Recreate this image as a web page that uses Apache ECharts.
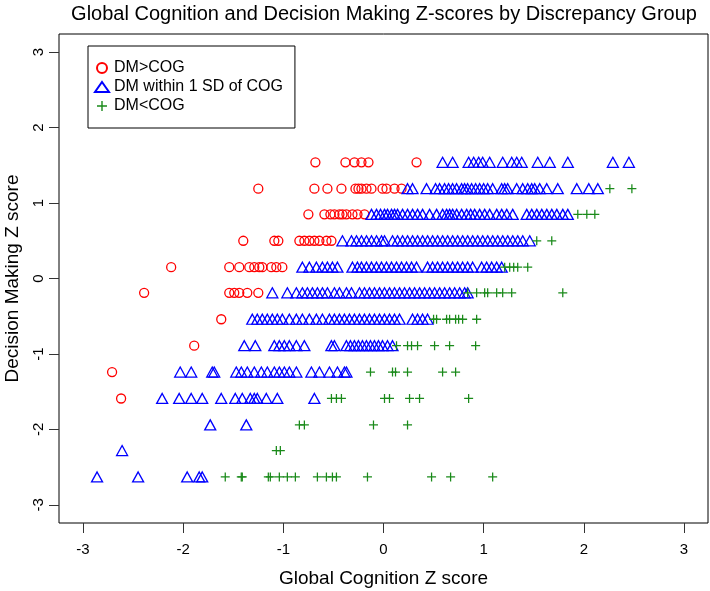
<!DOCTYPE html>
<html>
<head>
<meta charset="utf-8">
<script src="https://cdn.jsdelivr.net/npm/echarts@6/dist/echarts.min.js"></script>
<style>
html,body{margin:0;padding:0;background:#fff;}
#chart{width:710px;height:591px;}
</style>
</head>
<body>
<div id="chart"></div>
<script>
// Decision Making Z score levels (rows)
const dmLevels = [1.54, 1.19, 0.85, 0.50, 0.15, -0.19, -0.54, -0.89, -1.24, -1.59, -1.94, -2.28, -2.63];

// Global Cognition Z scores per row, DM>COG
const redCog = [
  [-0.68, -0.38, -0.29, -0.22, -0.15, 0.33],
  [-1.25, -0.69, -0.56, -0.42, -0.28, -0.25, -0.22, -0.17, -0.12, -0.01, 0.03, 0.11, 0.18],
  [-0.75, -0.59, -0.53, -0.49, -0.44, -0.41, -0.37, -0.31, -0.26, -0.19],
  [-1.40, -1.09, -1.05, -0.84, -0.79, -0.74, -0.69, -0.64, -0.57, -0.52],
  [-2.12, -1.54, -1.44, -1.34, -1.29, -1.24, -1.21, -1.12, -1.07, -1.01],
  [-2.39, -1.54, -1.49, -1.44, -1.36, -1.25],
  [-1.62],
  [-1.89],
  [-2.71],
  [-2.62],
  [],
  [],
  []
];

// DM within 1 SD of COG
const blueCog = [
  [0.59, 0.69, 0.85, 0.90, 0.95, 0.99, 1.06, 1.19, 1.28, 1.33, 1.38, 1.54, 1.66, 1.84, 2.29, 2.45],
  [0.24, 0.29, 0.43, 0.52, 0.56, 0.61, 0.65, 0.69, 0.73, 0.78, 0.81, 0.84, 0.88, 0.92, 0.96, 1.00, 1.04, 1.09, 1.18, 1.21, 1.24, 1.33, 1.39, 1.44, 1.48, 1.51, 1.56, 1.63, 1.74, 1.93, 2.05, 2.14],
  [-0.12, -0.07, -0.03, 0.01, 0.04, 0.08, 0.11, 0.14, 0.19, 0.24, 0.29, 0.34, 0.39, 0.46, 0.53, 0.59, 0.63, 0.66, 0.69, 0.73, 0.78, 0.83, 0.87, 0.91, 0.96, 1.01, 1.06, 1.13, 1.18, 1.23, 1.29, 1.43, 1.48, 1.53, 1.58, 1.63, 1.68, 1.73, 1.79, 1.84],
  [-0.41, -0.32, -0.27, -0.22, -0.17, -0.12, -0.07, -0.02, 0.01, 0.09, 0.14, 0.19, 0.24, 0.29, 0.34, 0.39, 0.44, 0.49, 0.54, 0.59, 0.64, 0.69, 0.74, 0.79, 0.84, 0.89, 0.94, 0.99, 1.04, 1.09, 1.14, 1.19, 1.24, 1.29, 1.34, 1.39, 1.46],
  [-0.81, -0.74, -0.67, -0.61, -0.56, -0.51, -0.46, -0.31, -0.26, -0.22, -0.17, -0.12, -0.07, -0.02, 0.03, 0.08, 0.13, 0.18, 0.23, 0.28, 0.33, 0.44, 0.49, 0.54, 0.59, 0.64, 0.69, 0.74, 0.79, 0.84, 0.89, 0.98, 1.03, 1.08, 1.13, 1.18],
  [-1.11, -0.96, -0.87, -0.81, -0.76, -0.71, -0.66, -0.61, -0.56, -0.49, -0.44, -0.37, -0.32, -0.24, -0.19, -0.14, -0.09, -0.04, 0.01, 0.06, 0.11, 0.16, 0.21, 0.26, 0.31, 0.36, 0.41, 0.46, 0.51, 0.56, 0.61, 0.66, 0.71, 0.76, 0.81, 0.84],
  [-1.31, -1.26, -1.21, -1.16, -1.11, -1.06, -1.01, -0.94, -0.87, -0.81, -0.74, -0.67, -0.61, -0.54, -0.49, -0.44, -0.39, -0.34, -0.29, -0.24, -0.19, -0.14, -0.09, -0.04, 0.01, 0.06, 0.11, 0.16, 0.29, 0.34, 0.39, 0.44],
  [-1.39, -1.28, -1.09, -1.04, -0.99, -0.94, -0.87, -0.79, -0.52, -0.49, -0.37, -0.33, -0.29, -0.25, -0.21, -0.17, -0.13, -0.09, -0.05, -0.01, 0.04, 0.09],
  [-2.03, -1.92, -1.71, -1.69, -1.47, -1.42, -1.36, -1.29, -1.22, -1.16, -1.09, -1.04, -0.99, -0.94, -0.87, -0.72, -0.64, -0.54, -0.46, -0.39, -0.37],
  [-2.21, -2.04, -1.92, -1.81, -1.62, -1.48, -1.41, -1.33, -1.29, -1.26, -1.17, -1.06, -0.69],
  [-1.73, -1.37],
  [-2.61],
  [-2.86, -2.45, -1.96, -1.84, -1.81]
];

// DM<COG
const greenCog = [
  [],
  [2.26, 2.48],
  [1.94, 2.03, 2.11],
  [1.53, 1.68],
  [1.21, 1.26, 1.30, 1.34, 1.44],
  [0.84, 0.93, 1.01, 1.04, 1.13, 1.19, 1.28, 1.79],
  [0.50, 0.53, 0.63, 0.66, 0.72, 0.75, 0.79, 0.93],
  [0.13, 0.24, 0.28, 0.34, 0.51, 0.66, 0.92],
  [-0.13, 0.09, 0.12, 0.24, 0.59, 0.72],
  [-0.52, -0.47, -0.42, 0.01, 0.06, 0.26, 0.36, 0.85],
  [-0.84, -0.79, -0.10, 0.24],
  [-1.07, -1.03],
  [-1.58, -1.42, -1.41, -1.15, -1.13, -1.04, -0.96, -0.88, -0.66, -0.57, -0.51, -0.47, -0.16, 0.48, 0.67, 1.09]
];

const groupNames = ['DM>COG', 'DM within 1 SD of COG', 'DM<COG'];
const tickValues = [-3, -2, -1, 0, 1, 2, 3];
const tickLabels = ['-3', '-2', '-1', '0', '1', '2', '3'];

function toPoints(rows) {
  const pts = [];
  rows.forEach((r, i) => r.forEach(x => pts.push([x, dmLevels[i]])));
  return pts;
}
function lab(v) {
  const i = tickValues.indexOf(Math.round(v));
  return i >= 0 ? tickLabels[i] : '';
}

const FONT = '"Liberation Sans", Arial, Helvetica, sans-serif';
const chart = echarts.init(document.getElementById('chart'), null, {renderer: 'canvas'});
const plusPath = 'path://M4.3,0H5.7V4.3H10V5.7H5.7V10H4.3V5.7H0V4.3H4.3Z';

chart.setOption({
  animation: false,
  backgroundColor: '#fff',
  textStyle: {fontFamily: FONT},
  title: {
    text: 'Global Cognition and Decision Making Z-scores by Discrepancy Group',
    left: 379, top: -1, textAlign: 'center',
    textStyle: {fontFamily: FONT, fontSize: 20, fontWeight: 'normal', color: '#000'}
  },
  legend: {
    orient: 'vertical', left: 88, top: 46,
    padding: [14, 12, 14, 6],
    itemGap: 3, itemWidth: 14, itemHeight: 10,
    borderColor: '#000', borderWidth: 1,
    textStyle: {fontFamily: FONT, fontSize: 16, color: '#000'},
    data: groupNames
  },
  grid: {
    left: 59, right: 2, top: 34, bottom: 68,
    outerBoundsMode: 'none', containLabel: false,
    show: true, borderColor: '#000', borderWidth: 1, backgroundColor: 'transparent'
  },
  xAxis: {
    type: 'value', min: -3.24, max: 3.24,
    name: 'Global Cognition Z score', nameLocation: 'middle', nameGap: 46,
    nameTextStyle: {fontFamily: FONT, fontSize: 19, color: '#000'},
    axisLine: {show: false, onZero: false},
    axisTick: {show: true, inside: false, length: 10, customValues: tickValues, lineStyle: {color: '#333', width: 1}},
    axisLabel: {customValues: tickValues, formatter: lab, margin: 19, fontFamily: FONT, fontSize: 15, color: '#000'},
    splitLine: {show: false}
  },
  yAxis: {
    type: 'value', min: -3.24, max: 3.24,
    name: 'Decision Making Z score', nameLocation: 'middle', nameGap: 37,
    nameTextStyle: {fontFamily: FONT, fontSize: 19, color: '#000'},
    axisLine: {show: false, onZero: false},
    axisTick: {show: true, inside: false, length: 10, customValues: tickValues, lineStyle: {color: '#333', width: 1}},
    axisLabel: {customValues: tickValues, formatter: lab, margin: 13, rotate: 90, fontFamily: FONT, fontSize: 15, color: '#000'},
    splitLine: {show: false}
  },
  series: [
    {
      name: groupNames[0], type: 'scatter', symbol: 'circle', symbolSize: 9,
      itemStyle: {color: 'rgba(255,255,255,0)', borderColor: '#ff0000', borderWidth: 1.3, opacity: 1},
      data: toPoints(redCog)
    },
    {
      name: groupNames[1], type: 'scatter', symbol: 'triangle', symbolSize: [11, 10],
      itemStyle: {color: 'rgba(255,255,255,0)', borderColor: '#0000ff', borderWidth: 1.3, opacity: 1},
      data: toPoints(blueCog)
    },
    {
      name: groupNames[2], type: 'scatter', symbol: plusPath, symbolSize: 9,
      itemStyle: {color: '#1a8a1a', opacity: 1},
      data: toPoints(greenCog)
    }
  ]
});
</script>
</body>
</html>
